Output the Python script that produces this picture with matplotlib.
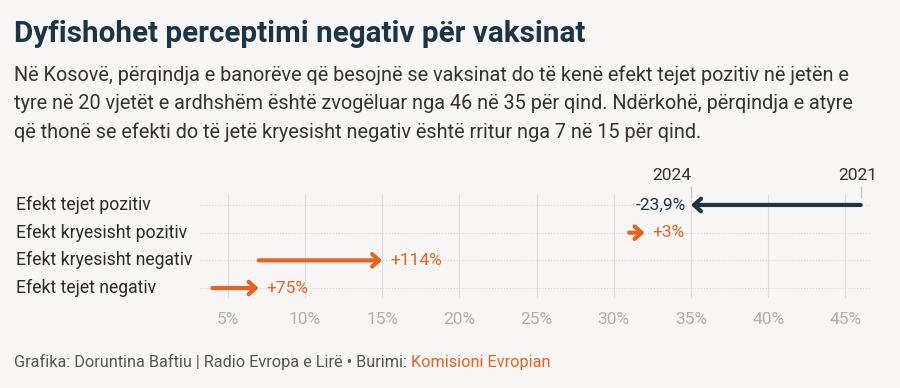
import matplotlib
matplotlib.use('Agg')
from matplotlib import pyplot as plt
from matplotlib import transforms

# data (percent)
categories = ['Efekt tejet pozitiv', 'Efekt kryesisht pozitiv',
              'Efekt kryesisht negativ', 'Efekt tejet negativ']
v2021 = [46, 31, 7, 4]
v2024 = [35, 32, 15, 7]
change_labels = ['-23,9%', '+3%', '+114%', '+75%']
xticks = [5, 10, 15, 20, 25, 30, 35, 40, 45]

bg = '#f7f6f4'
navy = '#1d3445'
orange = '#e8611e'
grey_txt = '#b0b0b0'
fam = ['Roboto', 'DejaVu Sans']

fig = plt.figure(figsize=(9, 3.88), dpi=100, facecolor=bg)

fig.text(14/900, 1 - 34/388, 'Dyfishohet perceptimi negativ për vaksinat',
         fontsize=21.3, fontweight='bold', color=navy, va='center', family=fam)

sub = ('Në Kosovë, përqindja e banorëve që besojnë se vaksinat do të kenë efekt tejet pozitiv në jetën e\n'
       'tyre në 20 vjetët e ardhshëm është zvogëluar nga 46 në 35 për qind. Ndërkohë, përqindja e atyre\n'
       'që thonë se efekti do të jetë kryesisht negativ është rritur nga 7 në 15 për qind.')
fig.text(14/900, 1 - 65/388, sub, fontsize=14.3, color='#333333', va='top',
         linespacing=1.62, family=fam)

ax = fig.add_axes([200/900, 1 - 298/388, 670/900, 103/388])
ax.set_facecolor(bg)
ax.set_xlim(3.2, 46.6)
ax.set_ylim(3.36, -0.36)
for s in ax.spines.values():
    s.set_visible(False)
ax.set_yticks([])
ax.set_xticks(xticks)
ax.set_xticklabels(['%d%%' % t for t in xticks], color=grey_txt, fontsize=12.5,
                   family=fam)
ax.tick_params(axis='x', length=0, pad=10)
ax.grid(axis='x', color='#dedede', lw=0.8)
ax.set_axisbelow(True)

rows = list(range(len(categories)))
ax.hlines(rows, 3.2, 46.6, colors='#d8d8d8', linestyles=':', lw=0.8)

lab_tr = transforms.blended_transform_factory(fig.transFigure, ax.transData)
for i, name in enumerate(categories):
    ax.text(16/900, i, name, transform=lab_tr, fontsize=12.7, color='#2b2b2b',
            va='center', ha='left', family=fam)

for i in rows:
    a, b = v2021[i], v2024[i]
    col = navy if b < a else orange
    ax.annotate('', xy=(b, i), xytext=(a, i),
                arrowprops=dict(arrowstyle='->,head_length=0.5,head_width=0.45',
                                lw=3, color=col, shrinkA=0, shrinkB=0))
    if b < a:
        ax.text(b - 0.3, i, change_labels[i], ha='right', va='center',
                color=navy, fontsize=12.5, family=fam)
    else:
        ax.text(b + 0.5, i, change_labels[i], ha='left', va='center',
                color=orange, fontsize=12.5, family=fam)

# year markers above the top arrow
ax.text(v2024[0] + 0.05, -1.05, '2024', ha='right', va='center', fontsize=12.5,
        color='#333333', clip_on=False, family=fam)
ax.text(v2021[0] - 0.2, -1.05, '2021', ha='center', va='center', fontsize=12.5,
        color='#333333', clip_on=False, family=fam)
for xv in (v2024[0], v2021[0]):
    ax.plot([xv, xv], [-0.65, -0.3], color='#c8c8c8', lw=1, clip_on=False)

foot = fig.text(14/900, 1 - 362/388,
                'Grafika: Doruntina Baftiu | Radio Evropa e Lirë • Burimi: ',
                fontsize=11.7, color='#555555', va='center', family=fam)
fig.canvas.draw()
bb = foot.get_window_extent()
fig.text(bb.x1 / fig.bbox.width, 1 - 362/388, 'Komisioni Evropian',
         fontsize=11.7, color=orange, va='center', family=fam)

fig.savefig('out.png', dpi=100, facecolor=bg)
